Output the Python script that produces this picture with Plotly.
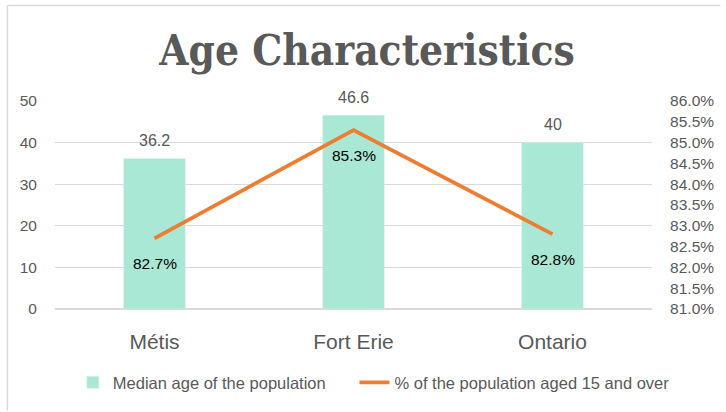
import plotly.graph_objects as go

categories = ["Métis", "Fort Erie", "Ontario"]
median_age = [36.2, 46.6, 40]
pct_15_over = [82.7, 85.3, 82.8]
right_ticks = [81.0, 81.5, 82.0, 82.5, 83.0, 83.5, 84.0, 84.5, 85.0, 85.5, 86.0]

GRAY = "#595959"
SANS = "Liberation Sans"
W, H = 726, 412
L, R, T, B = 55, 69, 101, 102
PW, PH = W - L - R, H - T - B

fig = go.Figure()
fig.add_trace(go.Bar(
    x=categories, y=median_age, name="Median age of the population",
    marker=dict(color="#A8E8D4"), width=0.31, legend="legend", showlegend=True,
))
fig.add_trace(go.Scatter(
    x=categories, y=pct_15_over, name="% of the population aged 15 and over",
    mode="lines", line=dict(color="#ED7D31", width=3.75), yaxis="y2",
    legend="legend2", showlegend=True,
))
for c, v in zip(categories, median_age):
    fig.add_annotation(x=c, y=v, xref="x", yref="y", text=f"{v:g}",
                       showarrow=False, yshift=18,
                       font=dict(size=16, color=GRAY, family=SANS))
for c, v in zip(categories, pct_15_over):
    fig.add_annotation(x=c, y=v, xref="x", yref="y2", text=f"{v:.1f}%",
                       showarrow=False, yshift=-25,
                       font=dict(size=15.5, color="#000000", family=SANS))

legend_common = dict(orientation="h", xanchor="left", visible=True,
                     y=(H - B - 384) / PH, yanchor="middle",
                     font=dict(size=16.5, color=GRAY, family=SANS))

fig.update_layout(
    width=W, height=H, showlegend=True,
    margin=dict(l=L, r=R, t=T, b=B),
    paper_bgcolor="white", plot_bgcolor="white",
    title=dict(text="<b>Age Characteristics</b>", x=367 / W, xanchor="center",
               y=1 - 50 / H, yanchor="middle",
               font=dict(size=42, color=GRAY, family="DejaVu Serif Condensed")),
    xaxis=dict(tickfont=dict(size=21, color=GRAY, family=SANS),
               showline=False, ticks="", showgrid=False, ticklabelstandoff=18),
    yaxis=dict(range=[0, 50], dtick=10, tickfont=dict(size=15.5, color=GRAY, family=SANS),
               gridcolor="#D9D9D9", gridwidth=1, zeroline=True, zerolinecolor="#D9D9D9",
               showline=False, ticks="outside", ticklen=14, tickcolor="white"),
    yaxis2=dict(range=[81, 86], tickvals=right_ticks, ticktext=[f"{t:.1f}%" for t in right_ticks],
                overlaying="y", side="right", showgrid=False, zeroline=False,
                tickfont=dict(size=15.5, color=GRAY, family=SANS),
                ticks="outside", ticklen=14, tickcolor="white"),
    legend=dict(x=(73 - L) / PW, **legend_common),
    legend2=dict(x=(357 - L) / PW, **legend_common),
    shapes=[
        dict(type="line", xref="paper", yref="paper", x0=(7 - L) / PW, x1=(7 - L) / PW,
             y0=(H - B - 5) / PH, y1=(H - B - H) / PH,
             line=dict(color="#D9D9D9", width=1.5)),
        dict(type="line", xref="paper", yref="paper", x0=(7 - L) / PW, x1=(W - L) / PW,
             y0=(H - B - 5) / PH, y1=(H - B - 5) / PH,
             line=dict(color="#D9D9D9", width=1.5)),
    ],
)
fig.write_html("out.html", config={"displayModeBar": False},
               post_script="document.body.style.margin='0';")
